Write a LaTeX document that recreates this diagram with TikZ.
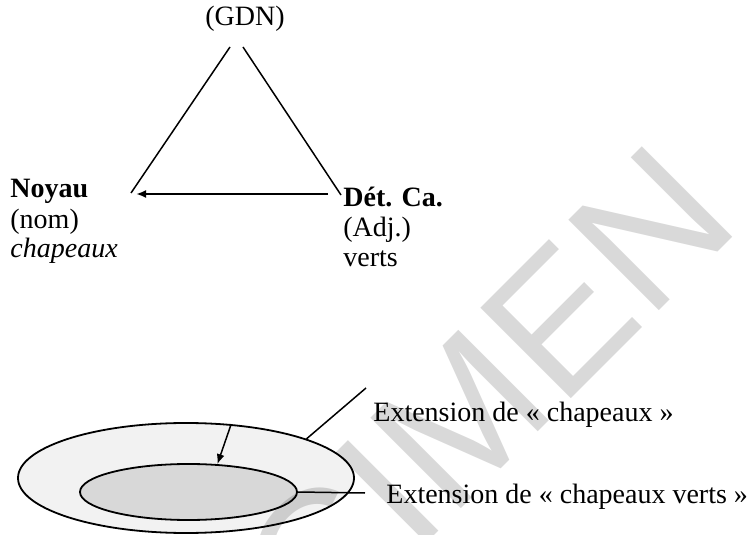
\documentclass[tikz,border=0pt]{standalone}
\usepackage{fontspec}
\setmainfont{Liberation Serif}
\newfontfamily\markfont{Liberation Sans}
\usepackage{tikz}
\usetikzlibrary{shapes,arrows,arrows.meta}
\definecolor{markgray}{HTML}{D9D9D9}

\begin{document}
\begin{tikzpicture}[x=0.5pt,y=-0.5pt,
		lbl/.style={inner sep=0pt, anchor=base west, font=\fontsize{14}{15}\selectfont},
		link/.style={line width=0.75pt},
		tip/.style={-{Latex[length=5pt,width=4pt]}},
		setbox/.style={ellipse, draw, line width=0.9pt, inner sep=0pt, fill=black}]
		\useasboundingbox (0,0) rectangle (751,535);
		\clip (0,0) rectangle (751,535);

		% watermark
		\node[rotate=45, anchor=base east, inner sep=0pt, text=markgray,
			font=\markfont\fontsize{93}{93}\selectfont] (specimen) at (743.5,226.5) {SPECIMEN};

		% groupe nominal
		\node[lbl] (gdn) at (205,26) {(GDN)};
		\node[lbl] (noyau) at (10,198) {\textbf{Noyau}};
		\node[lbl] (nom) at (10,228) {(nom)};
		\node[lbl] (chap) at (10,258) {\textit{chapeaux}};
		\node[lbl] (det) at (343,206) {\textbf{Dét. Ca.}};
		\node[lbl] (adj) at (343,237) {(Adj.)};
		\node[lbl] (verts) at (343,267) {verts};

		\coordinate (apexL) at (230,47);
		\coordinate (apexR) at (243,47);
		\coordinate (cornerL) at (131,193);
		\coordinate (cornerR) at (341,195);
		\coordinate (detS) at (328,194);
		\coordinate (noyauE) at (136,194);
		\draw[link] (apexL) -- (cornerL);
		\draw[link] (apexR) -- (cornerR);
		\draw[link,tip,line width=1pt] (detS) -- (noyauE);

		% extensions
		\node[setbox, fill opacity=0.05, minimum width=168pt, minimum height=55pt] (outer) at (186,478) {};
		\node[setbox, fill opacity=0.105, minimum width=108.5pt, minimum height=28pt] (inner) at (188.5,492) {};
		\draw[link,tip] (outer.50) -- (inner.44.5);

		\coordinate (tagA) at (366,388);
		\coordinate (tagB) at (365,493);
		\draw[link] (outer.18) -- (tagA);
		\draw[link] (inner.east) -- (tagB);
		\node[lbl] (extA) at (373,422) {Extension de « chapeaux »};
		\node[lbl] (extB) at (386,503) {Extension de « chapeaux verts »};
	\end{tikzpicture}
\end{document}
